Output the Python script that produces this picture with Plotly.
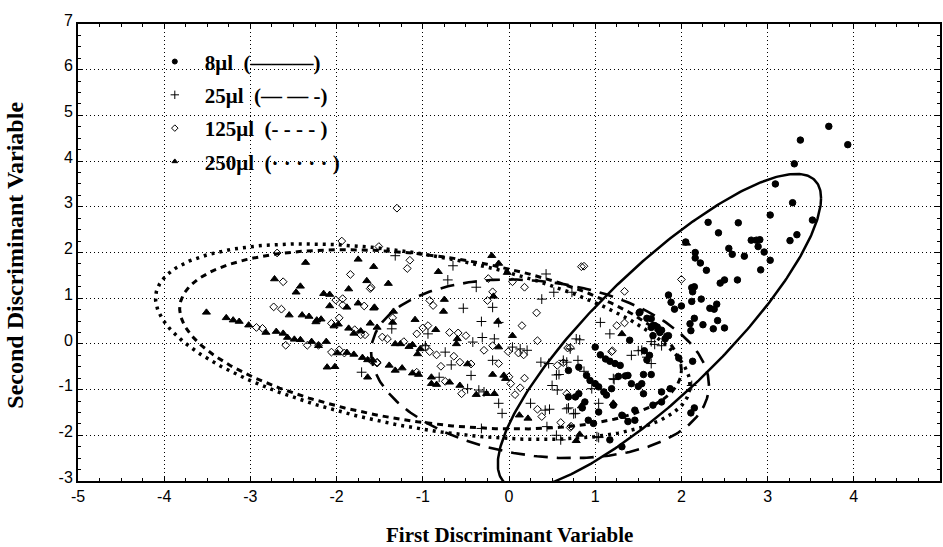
import numpy as np
import plotly.graph_objects as go

# ---------------- data ----------------
series_names = ["8μl\u2002(———)", "25μl\u2002(— — -)", "125μl\u2002(- - - - )", "250μl\u2002(· · · · · )"]

x_8 = [3.71, 3.38, 3.93, 3.31, 3.09,
       3.29, 3.03, 3.52, 2.31, 2.66, 2.43, 3.34, 3.26, 2.81, 2.87, 2.91, 2.89, 2.05, 2.55, 2.59,
       2.73, 2.96, 3.03, 2.16, 2.16, 2.22, 2.29, 2.92, 2.50, 2.45, 2.65, 2.12, 2.15, 2.13, 1.85,
       1.88, 1.92, 2.00, 2.12, 2.23, 2.33, 2.38, 2.41, 2.15, 2.10, 2.11, 2.25, 2.37, 2.42, 2.50,
       1.52, 1.65, 1.67, 1.72, 1.85, 1.51, 1.60, 1.69, 1.77, 1.83, 1.40,
       1.65, 1.67, 1.75, 1.81, 1.63, 1.00, 1.06, 1.12, 1.17, 1.23, 1.29, 0.69, 0.81, 0.90, 0.94,
       1.00, 1.04, 1.10, 1.13, 1.19, 1.35, 1.38, 1.42, 1.54, 1.56, 1.65, 1.56, 1.67, 1.46, 1.38,
       1.46, 1.31, 1.21, 1.04, 0.85, 0.92, 0.98, 0.69, 0.77, 0.81, 0.88, 1.17, 1.31, 1.77, 1.77,
       1.97, 2.13, 2.15, 2.11, 1.57, 1.60, 1.27, 1.50, 1.87]
y_8 = [4.76, 4.46, 4.36, 3.94, 3.50,
       3.09, 2.82, 2.71, 2.66, 2.65, 2.43, 2.39, 2.26, 2.27, 2.27, 2.28, 2.13, 2.23, 2.09, 1.96,
       1.92, 2.01, 1.83, 2.00, 1.88, 1.77, 1.61, 1.62, 1.40, 1.33, 1.40, 1.23, 1.25, 1.14, 1.07,
       0.91, 0.76, 0.83, 0.93, 0.98, 0.78, 0.76, 0.87, 0.56, 0.44, 0.29, 0.42, 0.33, 0.51, 0.35,
       0.70, 0.55, 0.40, 0.37, 0.18, 0.68, 0.56, 0.40, 0.30, 0.17, 0.08,
       0.36, 0.18, 0.25, 0.11, -0.25, -0.07, -0.24, -0.33, -0.38, -0.43, -0.47, -0.58, -0.51, -0.69, -0.80,
       -0.87, -0.94, -1.05, -1.12, -0.98, -0.70, -0.69, -0.87, -0.87, -0.67, -0.67, -1.09, -1.34, -1.45, -1.70,
       -1.67, -1.56, -1.34, -1.49, -1.40, -1.67, -1.74, -1.16, -1.16, -1.09, -1.27, -2.10, -2.25, -1.27, -1.05,
       -0.31, -0.38, -1.40, -1.51, -0.15, -0.35, -0.71, -0.93, -0.98]

x_25 = [-1.71,
        -1.32, -0.65, -0.71, -0.38, 0.43, 0.52, 0.38, 0.73, -0.53, -0.19, -0.32, -1.36, -0.94, -0.42,
        -0.74, -0.67, -0.44, -0.81, -0.48, -0.97, -0.32,
        -0.12, -0.31, -0.17, 0.04, 0.13, 0.21, -0.19, -0.35, -0.29, -0.12, -0.08, 0.25, 0.42, 0.47,
        0.37, 0.46, 0.58, 0.50, 0.56, 0.63, 0.69, 0.77, 0.60, 0.44, 0.87, 0.96, 1.04, 1.02, 1.21,
        1.42, 1.35, 1.54, 1.60, 1.65, 1.77, 1.06, 1.17,
        0.82, 1.50, 1.65, 1.69, 1.22, 2.12, 1.04,
        0.55, 0.67, 0.80, 0.78, 0.71, 0.55, 0.67, 0.75]
y_25 = [-0.62,
        1.93, 1.71, 1.40, 1.24, 1.53, 1.13, 0.98, 1.13, 0.78, 0.80, 0.49, 0.33, 0.22, 0.04,
        -0.18, -0.46, -0.69, -0.73, -0.98, -0.04, -1.85,
        0.47, 0.14, 0.11, -0.07, -0.11, -0.14, -0.36, -1.01, -1.05, -1.30, -1.52, -1.30, -1.45, -1.43,
        -0.40, -0.43, -0.67, -0.91, -1.01, -0.36, -1.40, -1.52, -2.10, -1.81, -0.60, -0.98, -1.30, -2.03, -0.76,
        -0.25, -1.63, -0.14, -0.29, -0.43, -0.04, 0.47, 0.22,
        0.09, -0.15, 0.05, -0.01, -0.78, -0.91, -2.05,
        -0.68, -0.40, -0.36, 0.11, -0.11, -2.00, -1.42, -1.53]

x_125 = [-2.62, -2.73, -2.64, -2.93, -2.86, -2.59, -2.34, -2.21, -2.06, -1.97, -1.91, -1.84, -1.61,
         -2.01, -1.93, -1.93, -1.97, -2.06, -1.79, -1.72, -1.67, -1.68, -1.94, -2.69, -1.53,
         -1.30, -1.51, -1.15, -1.18, -1.60, -0.92, -0.88, -0.25, -0.19, -0.24, 0.18, 0.84, 0.32, 0.15,
         -1.35, -1.07, -1.00, -0.94, -1.47, -1.41, -1.22, -0.97, -0.92, -0.84, -0.69, -0.59, -0.50,
         -0.64, -0.79, -0.57, -0.44, -0.55, -0.74, -1.07, -1.60, -1.53, 0.04,
         0.33, -0.29, -0.19, -0.01, 0.11, 0.17, -0.12, 0.00, 0.18, 0.02, 0.13, 0.07, 0.33, 0.38,
         0.56, 0.63, 0.68, 0.67, 0.60, 0.71, 1.19, 1.25,
         0.87, 2.00, 1.34, 1.34, 1.20, 0.71, 0.72]
y_125 = [1.36, 0.81, 0.76, 0.36, 0.34, -0.03, -0.03, -0.03, -0.18, -0.13, -0.20, 1.52, 1.21,
         0.96, 0.99, 0.85, 0.57, 0.45, 0.31, 0.20, 0.20, 0.83, 2.25, 1.99, -0.42,
         2.97, 2.13, 1.83, 1.65, 1.24, 0.95, 0.84, 0.95, 1.14, 1.43, 1.24, 1.69, 0.68, 0.40,
         0.57, 0.22, 0.35, 0.40, 0.15, 0.11, 0.05, -0.07, -0.17, -0.24, 0.25, 0.24, 0.18,
         -0.27, -0.49, -0.40, -0.44, -1.09, -0.82, -0.62, -0.36, -0.40, 1.36,
         0.07, -0.14, -0.04, -0.17, -0.20, -0.24, -0.43, -0.72, -0.75, -0.87, -0.96, -1.11, -1.43, -1.59,
         -0.47, -0.41, -0.09, -1.09, -1.72, -1.83, -0.17, 0.40,
         1.70, 1.41, 1.15, 0.46, -0.15, -0.08, -1.80]

x_250 = [-2.72, -2.36, -2.42, -2.47, -3.51, -3.28, -3.20, -3.13, -3.02, -2.82, -2.70, -2.62, -2.57,
         -2.49, -2.42, -2.55, -2.40, -2.32, -2.23, -2.18, -2.24, -2.15, -2.08, -2.08, -2.03, -1.98,
         -1.75, -1.57, -1.65, -1.86, -1.75, -1.88, -1.57, -1.61, -1.53, -1.86, -1.80, -1.72, -2.29,
         -2.21, -2.12, -1.99, -1.88, -1.80, -1.70, -1.64, -2.11, -2.02, -1.64,
         -0.20, -0.12, -0.82, -1.40, -0.75, -0.76, -0.18, -0.13, -1.56, -1.34, -1.35, -1.09, -0.85,
         -0.61, -0.60, -0.02, -1.06, -1.03, -1.16, -1.12, -1.26, -1.32, -1.58, -1.39, -1.32, -1.24,
         -1.12, -1.05, -0.90, -0.90, -0.84, -0.69, -0.57, -0.38, -0.48,
         0.04, -0.12, -0.06, -0.04, -0.19, -0.17, -0.26, 0.12, 0.22, 0.78, 1.21, 1.31,
         2.06, 0.84, 0.82]
y_250 = [1.42, 1.78, 1.26, 1.13, 0.69, 0.57, 0.52, 0.49, 0.41, 0.25, 0.27, 0.23, 0.14,
         0.10, 0.09, 0.63, 0.63, 0.60, 0.52, 0.54, 0.48, 1.10, 1.08, 0.83, 0.39, 0.43,
         1.85, 1.69, 1.38, 1.20, 0.89, 0.80, 0.78, 0.45, 0.36, 0.34, 0.23, 0.28, 0.05,
         -0.04, 0.05, -0.20, -0.19, -0.23, -0.30, -0.35, -0.51, -0.50, -0.73,
         1.93, 1.76, 1.58, 1.32, 0.97, 0.71, 1.04, 0.49, 0.80, 0.71, 0.47, 0.53, 0.31,
         0.00, 0.11, 1.56, -0.22, -0.11, -0.06, -0.02, 0.00, 0.00, -0.36, -0.47, -0.58, -0.53,
         -0.64, -0.67, -0.73, -0.87, -0.89, -0.84, -0.91, -1.11, -0.44,
         0.18, -0.07, -0.69, -0.76, -0.67, -1.09, -1.09, -1.56, -1.63, -2.12, -1.30, 0.22,
         2.20, -1.36, -1.98]

# confidence-ellipse parameters per series: centre and covariance-like matrix
ell_cx = [1.745, 0.36, -0.91, -1.00]
ell_cy = [0.278, -0.545, 0.10, 0.05]
ell_sxx = [3.516, 3.84, 8.47, 9.61]
ell_sxy = [5.457, -0.70, -1.96, -2.94]
ell_syy = [11.85, 3.82, 3.85, 4.58]

x_ticks = [-5, -4, -3, -2, -1, 0, 1, 2, 3, 4, 5]
y_ticks = [-3, -2, -1, 0, 1, 2, 3, 4, 5, 6, 7]

# ---------------- figure ----------------
xs = [x_8, x_25, x_125, x_250]
ys = [y_8, y_25, y_125, y_250]
symbols = ["circle", "cross-thin", "diamond-open", "triangle-up"]
sizes = [6.5, 7, 6, 7]
legend_sizes = [5, 6, 5, 5]
dashes = ["solid", "14px,9px", "6px,5px", "3px,5px"]
lwidths = [2.5, 2.6, 3.0, 3.5]
SERIF = "Liberation Serif, Times New Roman, serif"

fig = go.Figure()


def ellipse(cx, cy, sxx, sxy, syy, n=361):
    l11 = np.sqrt(sxx)
    l21 = sxy / l11
    l22 = np.sqrt(syy - l21 ** 2)
    t = np.linspace(0, 2 * np.pi, n)
    return cx + l11 * np.cos(t), cy + l21 * np.cos(t) + l22 * np.sin(t)


for i in range(4):
    ex, ey = ellipse(ell_cx[i], ell_cy[i], ell_sxx[i], ell_sxy[i], ell_syy[i])
    fig.add_trace(go.Scatter(x=ex, y=ey, mode="lines", showlegend=False, hoverinfo="skip",
                             line=dict(color="black", width=lwidths[i], dash=dashes[i])))

for i in range(4):
    fig.add_trace(go.Scatter(
        x=xs[i], y=ys[i], mode="markers", name=series_names[i], legendgroup=series_names[i],
        showlegend=False,
        marker=dict(symbol=symbols[i], size=sizes[i], color="black",
                    line=dict(color="black", width=1))))

# legend entries (small symbols, like the reference key)
for i in range(4):
    fig.add_trace(go.Scatter(
        x=[None], y=[None], mode="markers", name="<b>" + series_names[i] + "</b>",
        legendgroup=series_names[i], showlegend=True,
        marker=dict(symbol=symbols[i], size=legend_sizes[i], color="black",
                    line=dict(color="black", width=1))))

axis_common = dict(
    showgrid=True, gridcolor="black", gridwidth=1.2, griddash="1px,3px",
    showline=True, linecolor="black", linewidth=2, mirror="allticks",
    ticks="inside", ticklen=5, tickcolor="black", tickwidth=1,
    minor=dict(dtick=0.25, ticks="inside", ticklen=3, tickcolor="black", showgrid=False),
    zeroline=False,
    tickfont=dict(family="Liberation Sans, Arial", size=16, color="black"),
)

fig.update_xaxes(range=[-5, 5], tickvals=x_ticks, ticktext=[str(v) for v in x_ticks], **axis_common)
fig.update_yaxes(range=[-3, 7], tickvals=y_ticks, ticktext=[str(v) for v in y_ticks],
                 ticklabelshift=-4, **axis_common)

fig.update_layout(
    width=943, height=547,
    margin=dict(l=78, r=1, t=24, b=66),
    paper_bgcolor="white", plot_bgcolor="white",
    showlegend=True,
    legend=dict(x=0.0775, y=0.962, xanchor="left", yanchor="top",
                bgcolor="rgba(0,0,0,0)", borderwidth=0,
                font=dict(family=SERIF, size=21, color="black"),
                itemwidth=50, tracegroupgap=3, traceorder="grouped"),
    annotations=[
        dict(text="<b>First Discriminant Variable</b>", xref="paper", yref="paper",
             x=0.5, y=-0.118, xanchor="center", yanchor="middle", showarrow=False,
             font=dict(family=SERIF, size=21, color="black")),
        dict(text="<b>Second Discriminant Variable</b>", xref="paper", yref="paper",
             x=-0.0735, y=0.4945, xanchor="center", yanchor="middle", textangle=-90, showarrow=False,
             font=dict(family=SERIF, size=24, color="black")),
    ],
)

fig.write_html("out.html")
